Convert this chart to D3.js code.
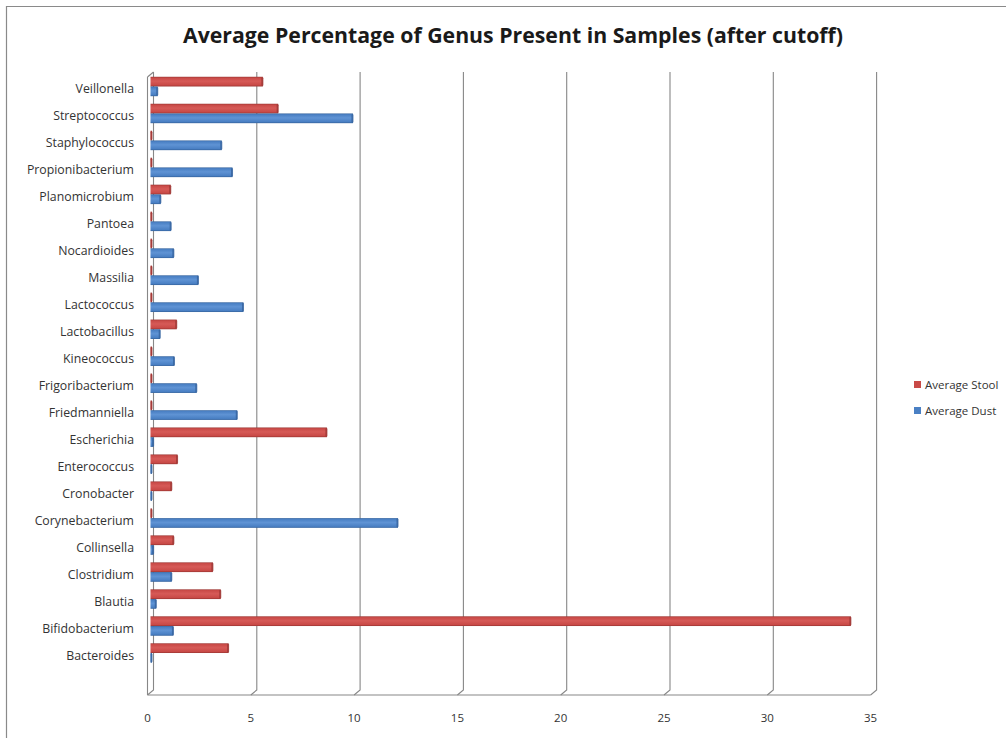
<!DOCTYPE html>
<html>
<head>
<meta charset="utf-8">
<script src="https://cdn.jsdelivr.net/npm/d3@7"></script>
<style>
  html, body { margin: 0; padding: 0; background: #fff; }
  svg { display: block; }
  text { font-family: "Open Sans", "Noto Sans", sans-serif; }
</style>
</head>
<body>
<svg id="chart" width="1006" height="738"></svg>
<script>
// Genus names, listed top to bottom as drawn
const categories = [
  "Veillonella", "Streptococcus", "Staphylococcus", "Propionibacterium",
  "Planomicrobium", "Pantoea", "Nocardioides", "Massilia", "Lactococcus",
  "Lactobacillus", "Kineococcus", "Frigoribacterium", "Friedmanniella",
  "Escherichia", "Enterococcus", "Cronobacter", "Corynebacterium",
  "Collinsella", "Clostridium", "Blautia", "Bifidobacterium", "Bacteroides"
];

// Average percentage per genus
const averageStool = [
  5.44, 6.18, 0.02, 0.02, 0.98, 0.02, 0.02, 0.02, 0.02, 1.27, 0.02,
  0.02, 0.02, 8.54, 1.31, 1.03, 0.02, 1.13, 3.02, 3.40, 33.9, 3.78
];
const averageDust = [
  0.35, 9.80, 3.45, 3.97, 0.50, 1.00, 1.13, 2.32, 4.50, 0.47, 1.16,
  2.24, 4.20, 0.15, 0.04, 0.04, 11.98, 0.15, 1.03, 0.28, 1.11, 0.04
];

const seriesNames = ["Average Stool", "Average Dust"];
const tickValues = [0, 5, 10, 15, 20, 25, 30, 35];

const seriesColors = {
  "Average Stool": { light: "#d65a57", base: "#c94a47", dark: "#9a3532" },
  "Average Dust":  { light: "#5f93d4", base: "#4a80c4", dark: "#34629c" }
};

const svg = d3.select("#chart");

// Outer chart border
svg.append("path")
  .attr("d", "M6.5,740 L6.5,6.5 L1010,6.5")
  .attr("fill", "none").attr("stroke", "#8a8a8a").attr("stroke-width", 1.2);

// Title
svg.append("text")
  .attr("x", 513).attr("y", 43)
  .attr("text-anchor", "middle")
  .attr("font-size", 22).attr("font-weight", "bold").attr("fill", "#1a1a1a")
  .attr("textLength", 660).attr("lengthAdjust", "spacingAndGlyphs")
  .text("Average Percentage of Genus Present in Samples (after cutoff)");

// Scales
const x = d3.scaleLinear().domain([0, 35]).range([150.5, 873.6]);
const depth = 3;              // half the 3D wall offset
const wallTop = 72, wallBottom = 690, floorY = 695;

const y = d3.scaleBand().domain(categories).range([73, 666.5]).paddingInner(0.28).paddingOuter(0.14);
const ySub = d3.scaleBand().domain(seriesNames).range([0, y.bandwidth()]);

// Back-wall gridlines with the short floor slant at their foot
const grid = svg.append("g").attr("fill", "none").attr("stroke", "#878787").attr("stroke-width", 1.1);
tickValues.forEach(v => {
  const xb = x(v) + depth, xf = x(v) - depth;
  grid.append("path")
    .attr("d", `M${xb},${wallTop} L${xb},${wallBottom} L${xf},${floorY}`);
});
// Left side wall
grid.append("path")
  .attr("d", `M${x(0) - depth},${wallTop + 5} L${x(0) + depth},${wallTop} M${x(0) - depth},${wallTop + 5} L${x(0) - depth},${floorY}`);
// Floor front edge
grid.append("path")
  .attr("d", `M${x(0) - depth},${floorY} L${x(35) - depth},${floorY}`);

// Gradients for the cylindrical look of the bars
const defs = svg.append("defs");
seriesNames.forEach((s, i) => {
  const c = seriesColors[s];
  const g = defs.append("linearGradient").attr("id", "grad" + i)
    .attr("x1", 0).attr("y1", 0).attr("x2", 0).attr("y2", 1);
  g.append("stop").attr("offset", "0%").attr("stop-color", c.dark);
  g.append("stop").attr("offset", "12%").attr("stop-color", c.base);
  g.append("stop").attr("offset", "45%").attr("stop-color", c.light);
  g.append("stop").attr("offset", "85%").attr("stop-color", c.base);
  g.append("stop").attr("offset", "100%").attr("stop-color", c.dark);
});

// Bars
const rows = categories.map((c, i) => ({
  category: c,
  values: [
    { series: "Average Stool", value: averageStool[i], si: 0 },
    { series: "Average Dust", value: averageDust[i], si: 1 }
  ]
}));

const rowG = svg.append("g").selectAll("g").data(rows).join("g")
  .attr("transform", d => `translate(0,${y(d.category)})`);

const bar = rowG.selectAll("g").data(d => d.values).join("g");

bar.append("rect")
  .attr("x", x(0))
  .attr("y", d => ySub(d.series))
  .attr("width", d => Math.max(1.5, x(d.value) - x(0)))
  .attr("height", ySub.bandwidth())
  .attr("fill", d => `url(#grad${d.si})`);

// End cap of each bar
bar.append("rect")
  .attr("x", d => x(0) + Math.max(1.5, x(d.value) - x(0)) - 1.5)
  .attr("y", d => ySub(d.series) + 0.5)
  .attr("width", 2)
  .attr("height", ySub.bandwidth() - 1)
  .attr("rx", 1)
  .attr("fill", d => seriesColors[d.series].dark)
  .attr("opacity", 0.8);

// Category labels
svg.append("g").selectAll("text").data(categories).join("text")
  .attr("x", 134)
  .attr("y", d => y(d) + y.bandwidth() / 2 + 2.5)
  .attr("dy", "0.35em")
  .attr("text-anchor", "end")
  .attr("font-size", 12.3).attr("fill", "#333")
  .text(d => d);

// Value axis labels along the front edge
svg.append("g").selectAll("text").data(tickValues).join("text")
  .attr("x", d => x(d) - depth)
  .attr("y", 718)
  .attr("dy", "0.35em")
  .attr("text-anchor", "middle")
  .attr("font-size", 11.5).attr("fill", "#333")
  .text(d => d);

// Legend
const legend = svg.append("g").selectAll("g").data(seriesNames).join("g")
  .attr("transform", (d, i) => `translate(914,${381 + i * 26})`);
legend.append("rect")
  .attr("width", 7).attr("height", 7)
  .attr("fill", d => seriesColors[d].base);
legend.append("text")
  .attr("x", 11).attr("y", 3.5).attr("dy", "0.35em")
  .attr("font-size", 11.5).attr("fill", "#333")
  .text(d => d);
</script>
</body>
</html>
